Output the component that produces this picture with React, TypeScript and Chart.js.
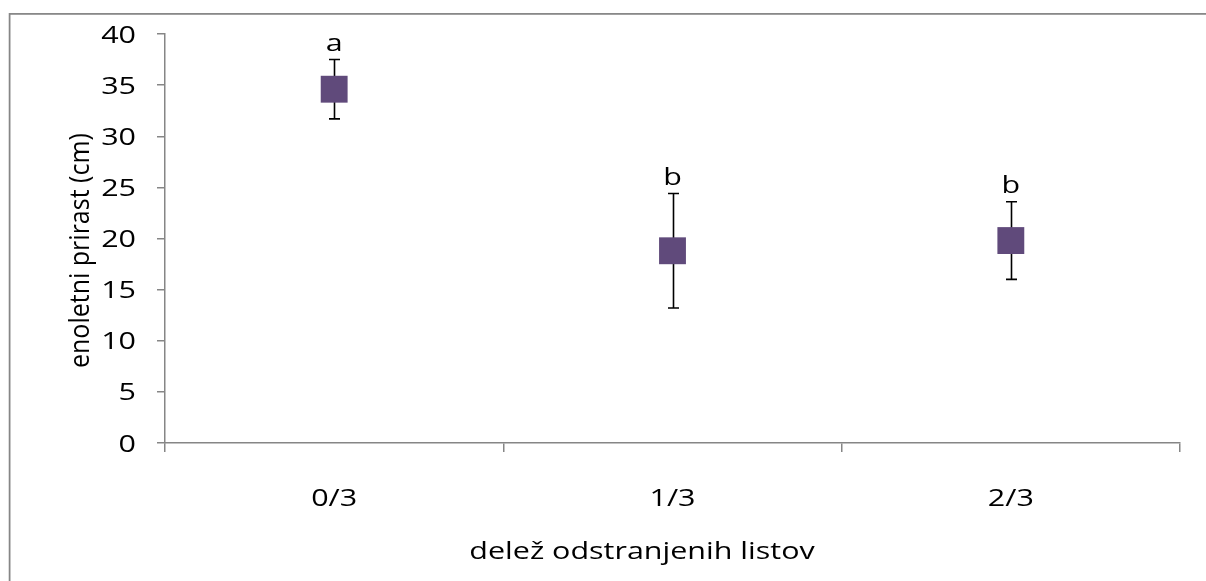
import React, { useEffect, useRef } from "react";
import { Chart, registerables } from "chart.js";

Chart.register(...registerables);

// Share of removed leaves (x categories)
const categories = ["0/3", "1/3", "2/3"];
// Mean annual growth (cm) per treatment
const means = [34.6, 18.8, 19.8];
// Error bar half-length (cm)
const errors = [2.9, 5.6, 3.8];
// Significance group letters
const groupLetters = ["a", "b", "b"];

const Y_MIN = 0;
const Y_MAX = 40;
const Y_STEP = 5;

const xTitle = "delež odstranjenih listov";
const yTitle = "enoletni prirast (cm)";

const FONT = "'Open Sans'";
const FONT_SIZE = 24;
const Y_TITLE_SIZE = 25;
// Text is drawn slightly widened horizontally
const TEXT_STRETCH = 1.27;
const AXIS_GRAY = "#868686";
const MARKER = "#604A7B";

function stretchedText(ctx: CanvasRenderingContext2D, text: string, x: number, y: number, align: CanvasTextAlign) {
  ctx.save();
  ctx.translate(x, y);
  ctx.scale(TEXT_STRETCH, 1);
  ctx.textAlign = align;
  ctx.fillText(text, 0, 0);
  ctx.restore();
}

export default function App() {
  const canvasRef = useRef<HTMLCanvasElement | null>(null);

  useEffect(() => {
    const canvas = canvasRef.current;
    if (!canvas) return;

    const framePlugin = {
      id: "frame",
      beforeDraw(chart: any) {
        const ctx = chart.ctx;
        ctx.save();
        ctx.fillStyle = "#ffffff";
        ctx.fillRect(0, 0, chart.width, chart.height);
        ctx.strokeStyle = AXIS_GRAY;
        ctx.lineWidth = 1.75;
        ctx.strokeRect(9.6, 13.9, chart.width + 50, chart.height + 50);
        ctx.restore();
      },
    };

    const errorBarPlugin = {
      id: "errorBars",
      beforeDatasetsDraw(chart: any) {
        const ctx = chart.ctx;
        const xs = chart.scales.x;
        const ys = chart.scales.y;
        ctx.save();
        ctx.strokeStyle = "#000000";
        ctx.lineWidth = 1.6;
        means.forEach((m, i) => {
          const x = Math.round(xs.getPixelForValue(i)) + 0.5;
          const top = ys.getPixelForValue(m + errors[i]);
          const bot = ys.getPixelForValue(m - errors[i]);
          ctx.beginPath();
          ctx.moveTo(x, top);
          ctx.lineTo(x, bot);
          ctx.moveTo(x - 5.5, top);
          ctx.lineTo(x + 5.5, top);
          ctx.moveTo(x - 5.5, bot);
          ctx.lineTo(x + 5.5, bot);
          ctx.stroke();
        });
        ctx.restore();
      },
      afterDatasetsDraw(chart: any) {
        const ctx = chart.ctx;
        const xs = chart.scales.x;
        const ys = chart.scales.y;
        ctx.save();
        ctx.fillStyle = "#000000";
        ctx.font = `${FONT_SIZE}px ${FONT}`;
        ctx.textBaseline = "alphabetic";
        means.forEach((m, i) => {
          const x = xs.getPixelForValue(i);
          const top = ys.getPixelForValue(m + errors[i]);
          stretchedText(ctx, groupLetters[i], x, top - 9, "center");
        });
        ctx.restore();
      },
      afterDraw(chart: any) {
        const ctx = chart.ctx;
        const xs = chart.scales.x;
        const ys = chart.scales.y;
        ctx.save();
        ctx.fillStyle = "#000000";
        ctx.font = `${FONT_SIZE}px ${FONT}`;
        ctx.textBaseline = "alphabetic";

        // y tick labels
        ys.ticks.forEach((t: any) => {
          const y = ys.getPixelForValue(t.value);
          stretchedText(ctx, String(t.value), 136, y + 8.5, "right");
        });

        // x tick labels
        categories.forEach((c, i) => {
          stretchedText(ctx, c, xs.getPixelForValue(i), 505.5, "center");
        });

        // axis titles
        ctx.textBaseline = "middle";
        stretchedText(ctx, xTitle, 642, 552, "center");

        ctx.font = `${Y_TITLE_SIZE}px ${FONT}`;
        ctx.translate(81, 368);
        ctx.scale(1.12, 1);
        ctx.rotate(-Math.PI / 2);
        ctx.textAlign = "left";
        ctx.fillText(yTitle, 0, 0);
        ctx.restore();
      },
    };

    const chart = new Chart(canvas, {
      type: "line",
      data: {
        labels: categories,
        datasets: [
          {
            data: means,
            showLine: false,
            pointStyle: "rect",
            pointRadius: 19,
            pointHoverRadius: 19,
            pointBackgroundColor: MARKER,
            pointBorderColor: MARKER,
            pointBorderWidth: 0,
          },
        ],
      },
      options: {
        responsive: false,
        animation: false,
        events: [],
        layout: { padding: { top: 34, right: 26, left: 0, bottom: 0 } },
        plugins: {
          legend: { display: false },
          tooltip: { enabled: false },
          title: { display: false },
        },
        scales: {
          x: {
            type: "category",
            offset: true,
            grid: {
              offset: true,
              drawOnChartArea: false,
              drawTicks: true,
              tickLength: 9,
              color: AXIS_GRAY,
              lineWidth: 1.5,
            },
            border: { display: true, color: AXIS_GRAY, width: 1.5 },
            ticks: { display: false },
            afterFit(scale: any) {
              scale.height = 138;
            },
          },
          y: {
            min: Y_MIN,
            max: Y_MAX,
            ticks: { stepSize: Y_STEP, display: false },
            grid: {
              drawOnChartArea: false,
              drawTicks: true,
              tickLength: 8,
              color: AXIS_GRAY,
              lineWidth: 1.5,
            },
            border: { display: true, color: AXIS_GRAY, width: 1.5 },
            afterFit(scale: any) {
              scale.width = 165;
            },
          },
        },
      },
      plugins: [framePlugin, errorBarPlugin],
    });

    return () => chart.destroy();
  }, []);

  return (
    <div style={{ position: "absolute", left: 0, top: 0, width: 1206, height: 581 }}>
      <canvas ref={canvasRef} width={1206} height={581} style={{ display: "block" }} />
    </div>
  );
}
